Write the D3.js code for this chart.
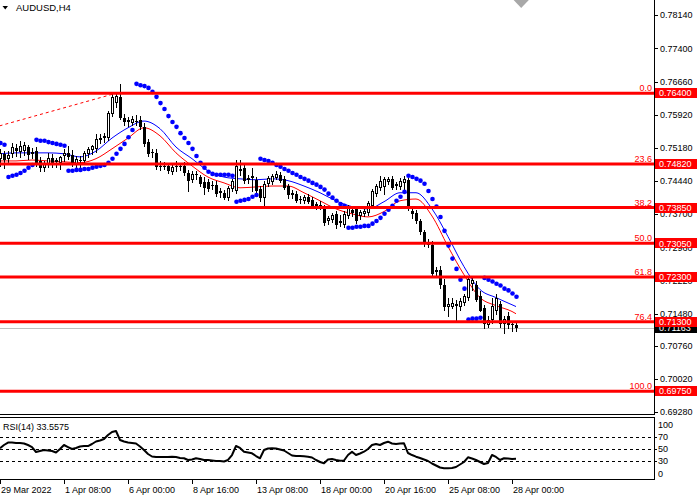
<!DOCTYPE html>
<meta charset="utf-8">
<style>
body { margin: 0; background: #fff; }
text { font-family: "Liberation Sans", Arial, sans-serif; font-size: 9px; }
</style>
<body>
<script src="https://d3js.org/d3.v7.min.js"></script>
<script>
// values
const symbolName = "AUDUSD,H4";
const timeLabels = ["29 Mar 2022", "1 Apr 08:00", "6 Apr 00:00", "8 Apr 16:00", "13 Apr 08:00",
  "18 Apr 00:00", "20 Apr 16:00", "25 Apr 08:00", "28 Apr 00:00"];
const timeLabelBars = [0, 16, 32, 48, 64, 80, 96, 112, 128];
const priceTicks = [0.78140, 0.77400, 0.76660, 0.75920, 0.75180, 0.74440, 0.73700,
  0.72960, 0.72220, 0.71480, 0.70760, 0.70020, 0.69280];
const fibNames = ["0.0", "23.6", "38.2", "50.0", "61.8", "76.4", "100.0"];
const fibPrices = [0.76400, 0.74820, 0.73850, 0.73050, 0.72300, 0.71300, 0.69750];
const fibTrend = [{bar: -237, price: 0.69750}, {bar: 29, price: 0.76400}];
const lastPrice = 0.71163;
const rsiText = "RSI(14) 33.5575";
const rsiLevels = [70, 50, 30];
const rsiTicks = [100, 70, 50, 30, 0];

const opens = [
  .7494,.7505,.7494,.7505,.7518,.7509,.7511,.7520,.7505,.7511,
  .7489,.7474,.7482,.7496,.7487,.7485,.7500,.7507,.7502,.7482,
  .7491,.7489,.7505,.7514,.7516,.7536,.7540,.7540,.7594,.7618,
  .7632,.7585,.7576,.7574,.7578,.7580,.7565,.7531,.7507,.7507,
  .7476,.7478,.7478,.7465,.7476,.7476,.7478,.7462,.7447,.7460,
  .7453,.7442,.7442,.7436,.7436,.7418,.7418,.7407,.7427,.7422,
  .7471,.7474,.7447,.7451,.7447,.7427,.7407,.7438,.7442,.7451,
  .7458,.7449,.7433,.7413,.7416,.7404,.7400,.7409,.7402,.7393,
  .7389,.7384,.7355,.7358,.7371,.7351,.7346,.7366,.7380,.7382,
  .7366,.7371,.7373,.7389,.7416,.7429,.7431,.7442,.7449,.7433,
  .7431,.7440,.7447,.7378,.7373,.7355,.7331,.7304,.7302,.7240,
  .7246,.7211,.7162,.7164,.7170,.7162,.7173,.7184,.7215,.7211,
  .7188,.7160,.7122,.7133,.7155,.7170,.7124,.7144,.7122,.7122];
const highs = [
  .7516,.7511,.7511,.7529,.7527,.7534,.7531,.7525,.7518,.7520,
  .7498,.7489,.7507,.7505,.7496,.7500,.7516,.7523,.7514,.7500,
  .7500,.7511,.7520,.7525,.7549,.7549,.7551,.7601,.7638,.7640,
  .7661,.7594,.7587,.7589,.7592,.7589,.7574,.7538,.7516,.7516,
  .7489,.7487,.7485,.7482,.7489,.7485,.7487,.7469,.7467,.7467,
  .7458,.7453,.7449,.7445,.7445,.7429,.7425,.7433,.7449,.7491,
  .7491,.7480,.7458,.7474,.7453,.7433,.7445,.7456,.7460,.7467,
  .7465,.7456,.7438,.7425,.7422,.7411,.7413,.7416,.7409,.7398,
  .7400,.7391,.7366,.7373,.7378,.7369,.7378,.7391,.7389,.7389,
  .7380,.7382,.7400,.7427,.7438,.7456,.7453,.7453,.7456,.7442,
  .7451,.7456,.7451,.7387,.7380,.7360,.7335,.7315,.7311,.7253,
  .7255,.7226,.7184,.7182,.7179,.7184,.7193,.7231,.7231,.7220,
  .7199,.7168,.7142,.7184,.7193,.7177,.7142,.7151,.7131,.7131];
const lows = [
  .7478,.7474,.7485,.7498,.7500,.7498,.7502,.7494,.7496,.7478,
  .7467,.7467,.7476,.7476,.7476,.7471,.7489,.7494,.7478,.7471,
  .7476,.7482,.7498,.7505,.7509,.7529,.7531,.7536,.7589,.7609,
  .7583,.7569,.7567,.7569,.7569,.7560,.7523,.7500,.7498,.7471,
  .7469,.7471,.7462,.7460,.7467,.7469,.7458,.7422,.7442,.7449,
  .7433,.7416,.7422,.7427,.7411,.7409,.7404,.7402,.7422,.7418,
  .7458,.7440,.7440,.7422,.7418,.7400,.7389,.7433,.7438,.7449,
  .7442,.7427,.7407,.7407,.7398,.7396,.7396,.7396,.7387,.7382,
  .7382,.7346,.7349,.7353,.7340,.7344,.7342,.7362,.7366,.7351,
  .7360,.7366,.7369,.7384,.7411,.7425,.7416,.7438,.7427,.7427,
  .7427,.7427,.7380,.7362,.7351,.7326,.7300,.7298,.7233,.7235,
  .7206,.7157,.7144,.7160,.7135,.7157,.7168,.7179,.7202,.7177,
  .7153,.7117,.7119,.7128,.7148,.7119,.7104,.7117,.7110,.7110];
const closes = [
  .7507,.7491,.7502,.7520,.7511,.7523,.7525,.7502,.7509,.7485,
  .7474,.7482,.7496,.7485,.7491,.7498,.7507,.7498,.7485,.7494,
  .7489,.7507,.7516,.7523,.7538,.7540,.7545,.7596,.7632,.7634,
  .7585,.7576,.7580,.7583,.7576,.7565,.7527,.7505,.7509,.7476,
  .7478,.7476,.7467,.7476,.7477,.7478,.7462,.7445,.7460,.7458,
  .7438,.7429,.7427,.7433,.7416,.7422,.7407,.7429,.7445,.7478,
  .7467,.7445,.7451,.7456,.7422,.7407,.7438,.7451,.7456,.7460,
  .7445,.7429,.7413,.7418,.7400,.7403,.7409,.7398,.7389,.7384,
  .7391,.7351,.7362,.7369,.7346,.7355,.7371,.7387,.7373,.7355,
  .7376,.7378,.7396,.7422,.7433,.7445,.7449,.7449,.7429,.7438,
  .7445,.7449,.7384,.7371,.7355,.7331,.7304,.7302,.7237,.7246,
  .7211,.7162,.7170,.7173,.7166,.7177,.7188,.7226,.7224,.7179,
  .7155,.7126,.7133,.7166,.7182,.7124,.7137,.7122,.7124,.71163];

// moving averages, read every 4th bar
const maBars = [0,4,8,12,16,20,24,28,32,36,40,44,48,52,56,60,64,68,72,76,80,84,88,92,96,100,104,108,112,116,120,124,128,129];
const maBlue = [.7505,.7507,.7507,.7507,.7505,.7498,.7511,.7540,.7563,.7578,.7561,.7520,.7494,.7467,.7453,.7449,.7447,
  .7449,.7445,.7433,.7418,.7400,.7387,.7382,.7398,.7418,.7418,.7382,.7320,.7253,.7202,.7184,.7168,.7164];
const maRed = [.7489,.7489,.7491,.7489,.7487,.7485,.7494,.7516,.7540,.7563,.7545,.7507,.7478,.7453,.7440,.7429,.7431,
  .7433,.7433,.7418,.7400,.7382,.7371,.7364,.7376,.7400,.7404,.7366,.7298,.7235,.7184,.7166,.7153,.7148];

// parabolic SAR, one dot per bar
const sar = [
  .7529,.7525,.7453,.7456,.7458,.7462,.7467,.7474,.7480,.7536,
  .7534,.7534,.7531,.7529,.7527,.7525,.7523,.7467,.7467,.7469,
  .7469,.7471,.7471,.7474,.7476,.7478,.7480,.7485,.7494,.7505,
  .7516,.7527,.7542,.7558,.7661,.7658,.7656,.7652,.7643,.7632,
  .7618,.7605,.7589,.7576,.7565,.7551,.7540,.7529,.7516,.7500,
  .7485,.7474,.7465,.7460,.7458,.7458,.7458,.7458,.7456,.7398,
  .7400,.7402,.7404,.7409,.7413,.7494,.7491,.7489,.7485,.7480,
  .7476,.7471,.7467,.7462,.7458,.7453,.7449,.7445,.7440,.7436,
  .7431,.7425,.7416,.7407,.7400,.7393,.7389,.7340,.7340,.7342,
  .7342,.7344,.7344,.7349,.7355,.7362,.7371,.7380,.7389,.7400,
  .7409,.7420,.7456,.7453,.7449,.7445,.7438,.7422,.7404,.7387,
  .7364,.7333,.7300,.7271,.7248,.7224,.7204,.7135,.7137,.7137,
  .7139,.7228,.7224,.7220,.7215,.7211,.7204,.7200,.7193,.7186];

const rsi = [
  51.3,56.9,61.1,61.1,60.3,60.3,59.5,56.9,53.5,45.1,
  46.8,48.5,47.6,46.8,44.3,50.2,56.9,53.5,50.2,51.9,
  54.4,55.2,55.2,58.6,62.8,64.5,67.1,73.8,78.9,80.6,
  65.4,62.8,61.1,60.3,59.5,54.4,48.5,41.7,37.5,36.7,
  36.7,36.7,36.7,37.2,36.7,35.0,34.5,31.6,32.4,34.5,
  33.3,31.6,31.6,30.7,29.9,29.9,29.1,31.6,40.0,55.2,
  51.9,45.6,44.3,42.9,38.3,34.5,48.5,51.0,51.3,51.0,
  49.3,47.6,43.4,39.2,38.3,38.3,37.8,37.2,35.8,31.6,
  28.2,26.0,32.4,33.3,31.6,30.4,30.7,40.0,45.6,40.0,
  42.6,45.6,50.2,56.9,58.6,56.9,60.3,62.5,59.5,58.6,
  59.5,59.8,43.4,40.0,37.2,35.0,32.4,29.9,25.7,22.3,
  18.9,17.6,17.6,18.1,19.8,24.0,28.2,36.1,34.1,31.6,
  28.2,24.8,26.5,40.0,36.7,31.6,34.5,34.1,33.3,33.5575];

// layout
const width = 700, height = 500;
const plotRight = 654, mainBottom = 414, rsiTop = 417, rsiBottom = 479;

const svg = d3.select('body')
  .append('svg')
  .attr('width', width)
  .attr('height', height)
  .style('display', 'block');

const x = d3.scaleLinear().domain([0, 129]).range([0, 516]);
const y = d3.scaleLinear().domain([0.69280, 0.78140]).range([412.3, 15.3]);
const yR = d3.scaleLinear().domain([0, 100]).range([478.7, 419.5]);

const defs = svg.append('defs');
defs.append('clipPath').attr('id', 'clipMain')
  .append('rect').attr('x', 0).attr('y', 0).attr('width', plotRight).attr('height', mainBottom);
defs.append('clipPath').attr('id', 'clipRsi')
  .append('rect').attr('x', 0).attr('y', rsiTop + 1).attr('width', plotRight).attr('height', rsiBottom - rsiTop - 1);

const main = svg.append('g').attr('clip-path', 'url(#clipMain)');

// chart shift marker
main.append('path')
  .attr('d', d3.line()([[x(128.4), 0], [x(132.2), 0], [x(130.3), 8]]) + 'Z')
  .attr('fill', '#a8a8a8');

// last price line
main.append('line')
  .attr('x1', 0).attr('x2', plotRight)
  .attr('y1', Math.round(y(lastPrice)) + 0.5).attr('y2', Math.round(y(lastPrice)) + 0.5)
  .attr('stroke', '#c0c0c0');

// moving averages
const maLine = d3.line()
  .x(function (d, k) { return x(maBars[k]); })
  .y(function (d) { return y(d); })
  .curve(d3.curveMonotoneX);
main.append('path').attr('d', maLine(maBlue)).attr('fill', 'none').attr('stroke', '#0000ff').attr('stroke-width', 1);
main.append('path').attr('d', maLine(maRed)).attr('fill', 'none').attr('stroke', '#ff0000').attr('stroke-width', 1);

// candles
const bars = d3.range(opens.length);
const cx = function (i) { return Math.round(x(i)); };
const bodyTop = function (i) { return Math.round(y(Math.max(opens[i], closes[i]))); };
const bodyH = function (i) { return Math.max(1, Math.round(y(Math.min(opens[i], closes[i]))) - bodyTop(i)); };

const candles = main.append('g').attr('shape-rendering', 'crispEdges');
candles.selectAll('.wick')
  .data(bars)
  .enter().append('line')
  .attr('class', 'wick')
  .attr('x1', function (i) { return cx(i) + 0.5; })
  .attr('x2', function (i) { return cx(i) + 0.5; })
  .attr('y1', function (i) { return Math.round(y(highs[i])); })
  .attr('y2', function (i) { return Math.round(y(lows[i])) + 1; })
  .attr('stroke', '#000');
candles.selectAll('.body')
  .data(bars)
  .enter().append('rect')
  .attr('class', 'body')
  .attr('x', function (i) { return cx(i) - 1; })
  .attr('y', bodyTop)
  .attr('width', 3)
  .attr('height', bodyH)
  .attr('fill', '#000');
candles.selectAll('.bull')
  .data(bars.filter(function (i) { return closes[i] > opens[i] && bodyH(i) >= 3; }))
  .enter().append('rect')
  .attr('class', 'bull')
  .attr('x', cx)
  .attr('y', function (i) { return bodyTop(i) + 1; })
  .attr('width', 1)
  .attr('height', function (i) { return bodyH(i) - 2; })
  .attr('fill', '#fff');

// parabolic SAR
main.append('g').selectAll('circle')
  .data(bars)
  .enter().append('circle')
  .attr('cx', function (i) { return x(i) + 0.5; })
  .attr('cy', function (i) { return y(sar[i]); })
  .attr('r', 2.3)
  .attr('fill', '#0000ff');

// fibonacci trend line and levels
main.append('line')
  .attr('x1', x(fibTrend[0].bar)).attr('y1', y(fibTrend[0].price))
  .attr('x2', x(fibTrend[1].bar)).attr('y2', y(fibTrend[1].price))
  .attr('stroke', '#ff0000').attr('stroke-width', 1).attr('stroke-dasharray', '3,3');

main.selectAll('.fib')
  .data(fibPrices)
  .enter().append('line')
  .attr('class', 'fib')
  .attr('x1', 0).attr('x2', plotRight)
  .attr('y1', function (d) { return y(d); })
  .attr('y2', function (d) { return y(d); })
  .attr('stroke', '#ff0000').attr('stroke-width', 3);

main.selectAll('.fibName')
  .data(fibPrices)
  .enter().append('text')
  .attr('class', 'fibName')
  .attr('x', plotRight - 2)
  .attr('y', function (d) { return y(d) - 2; })
  .attr('text-anchor', 'end')
  .attr('fill', '#ff0000')
  .text(function (d, k) { return fibNames[k]; });

// title
svg.append('path').attr('d', 'M2.5,6L8,6L5.25,9.5Z').attr('fill', '#000');
svg.append('text').attr('x', 16).attr('y', 10.5).style('font-size', '9.5px').text(symbolName);

// frames
const frame = svg.append('g').attr('stroke', '#000').attr('shape-rendering', 'crispEdges');
frame.append('line').attr('x1', plotRight + 0.5).attr('x2', plotRight + 0.5).attr('y1', 0).attr('y2', mainBottom + 1);
frame.append('line').attr('x1', 0).attr('x2', plotRight + 1).attr('y1', mainBottom + 0.5).attr('y2', mainBottom + 0.5);
frame.append('line').attr('x1', 0).attr('x2', plotRight + 1).attr('y1', rsiTop + 0.5).attr('y2', rsiTop + 0.5);
frame.append('line').attr('x1', 0).attr('x2', plotRight + 1).attr('y1', rsiBottom + 0.5).attr('y2', rsiBottom + 0.5);
frame.append('line').attr('x1', plotRight + 0.5).attr('x2', plotRight + 0.5).attr('y1', rsiTop).attr('y2', rsiBottom + 1);

// price axis
const pAxis = svg.append('g');
pAxis.selectAll('line')
  .data(priceTicks)
  .enter().append('line')
  .attr('x1', plotRight).attr('x2', plotRight + 4)
  .attr('y1', function (d) { return Math.round(y(d)) + 0.5; })
  .attr('y2', function (d) { return Math.round(y(d)) + 0.5; })
  .attr('stroke', '#000');
pAxis.selectAll('text')
  .data(priceTicks)
  .enter().append('text')
  .attr('x', plotRight + 6)
  .attr('y', function (d) { return y(d); })
  .attr('dy', '0.35em')
  .text(function (d) { return d.toFixed(5); });

// last price tag, then fibonacci price tags
function priceTag(p, fill) {
  svg.append('rect')
    .attr('x', plotRight + 1).attr('y', Math.round(y(p)) - 5)
    .attr('width', 42).attr('height', 10)
    .attr('fill', fill);
  svg.append('text')
    .attr('x', plotRight + 5).attr('y', y(p))
    .attr('dy', '0.35em')
    .attr('fill', '#fff')
    .text(p.toFixed(5));
}
priceTag(lastPrice, '#000');
fibPrices.forEach(function (p) { priceTag(p, '#ff0000'); });

// RSI panel
const rsiG = svg.append('g').attr('clip-path', 'url(#clipRsi)');
rsiG.selectAll('.lvl')
  .data(rsiLevels)
  .enter().append('line')
  .attr('class', 'lvl')
  .attr('x1', 0).attr('x2', plotRight)
  .attr('y1', function (d) { return Math.round(yR(d)) + 0.5; })
  .attr('y2', function (d) { return Math.round(yR(d)) + 0.5; })
  .attr('stroke', '#000').attr('stroke-dasharray', '3,3');
rsiG.append('path')
  .attr('d', d3.line().x(function (d, i) { return x(i); }).y(function (d) { return yR(d); })(rsi))
  .attr('fill', 'none').attr('stroke', '#000').attr('stroke-width', 2).attr('stroke-linejoin', 'round');

svg.append('text').attr('x', 3).attr('y', 429.5).text(rsiText);

svg.selectAll('.rsiTick')
  .data(rsiTicks)
  .enter().append('text')
  .attr('class', 'rsiTick')
  .attr('x', plotRight + 4)
  .attr('y', function (d) { return Math.min(473.5, Math.max(424.5, yR(d))); })
  .attr('dy', '0.35em')
  .text(function (d) { return d; });
svg.selectAll('.rsiMark')
  .data(rsiLevels)
  .enter().append('line')
  .attr('class', 'rsiMark')
  .attr('x1', plotRight).attr('x2', plotRight + 3)
  .attr('y1', function (d) { return Math.round(yR(d)) + 0.5; })
  .attr('y2', function (d) { return Math.round(yR(d)) + 0.5; })
  .attr('stroke', '#000');

// time axis
const tAxis = svg.append('g');
tAxis.selectAll('line')
  .data(timeLabelBars)
  .enter().append('line')
  .attr('x1', function (d) { return Math.round(x(d)) + 0.5; })
  .attr('x2', function (d) { return Math.round(x(d)) + 0.5; })
  .attr('y1', rsiBottom).attr('y2', rsiBottom + 5)
  .attr('stroke', '#000');
tAxis.selectAll('text')
  .data(timeLabelBars)
  .enter().append('text')
  .attr('x', function (d) { return Math.round(x(d)) + 1; })
  .attr('y', 493)
  .text(function (d, k) { return timeLabels[k]; });
</script>
</body>
